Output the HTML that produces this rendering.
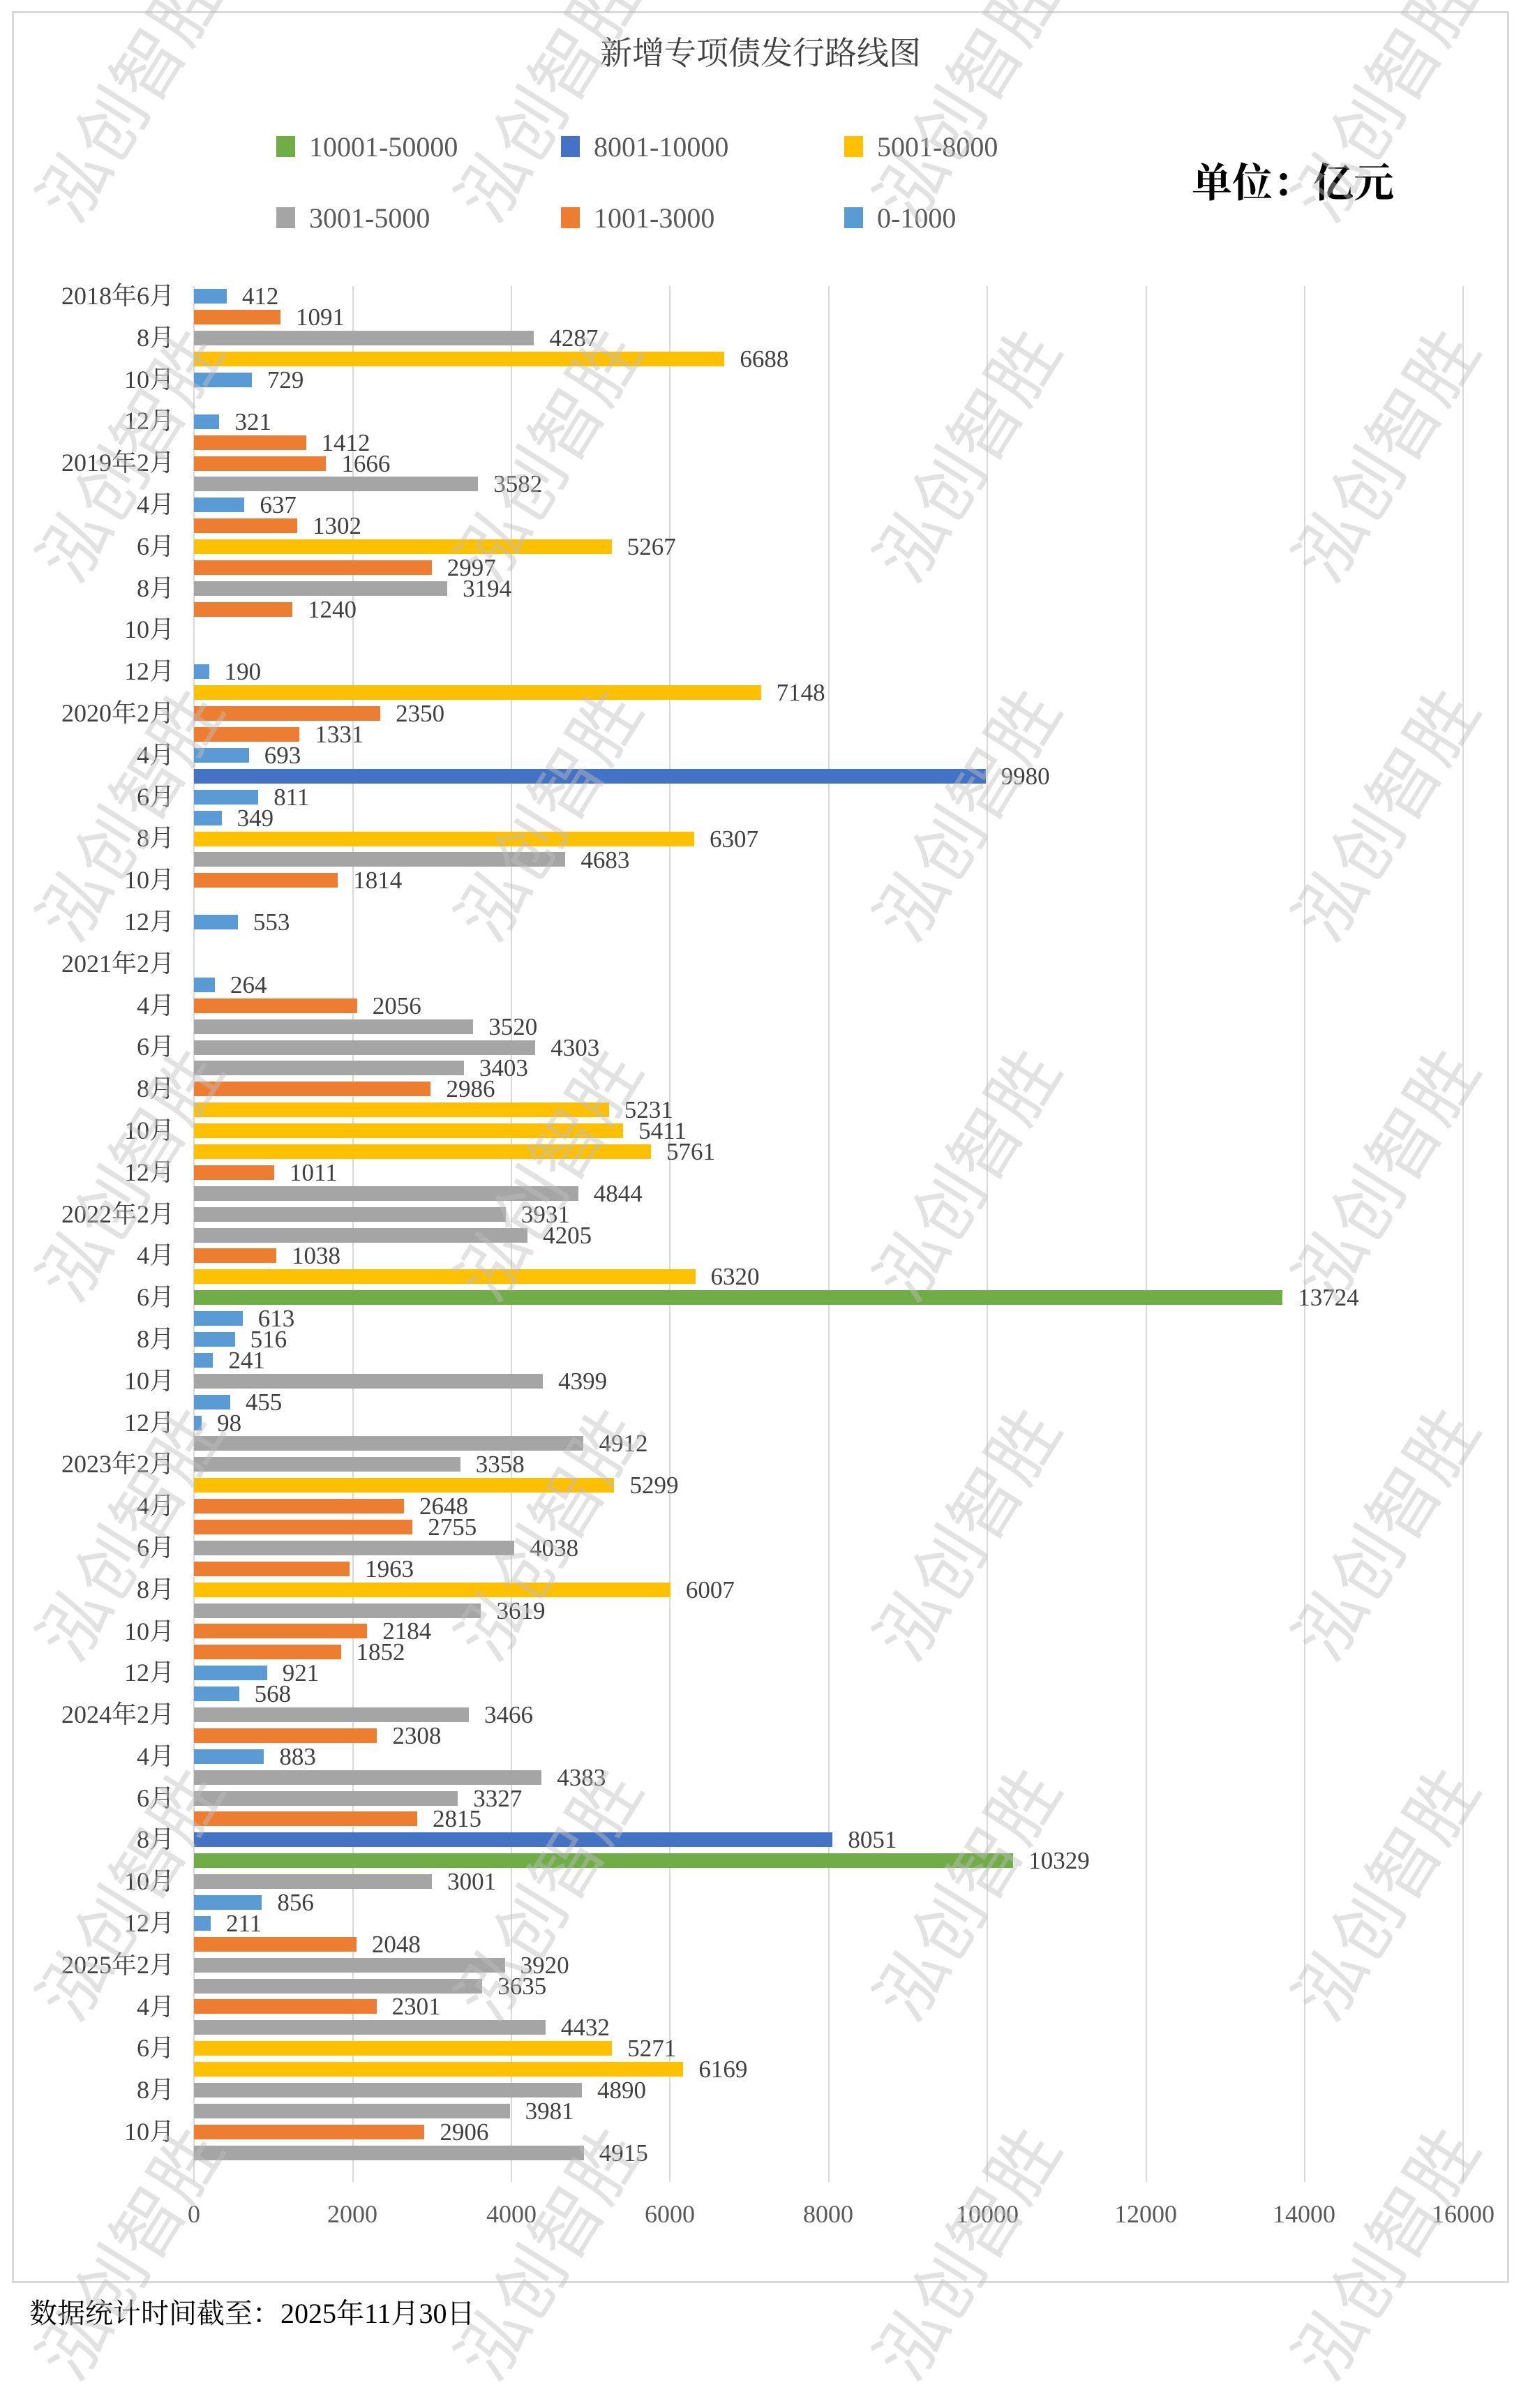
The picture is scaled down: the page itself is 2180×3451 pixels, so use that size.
<!DOCTYPE html>
<html><head><meta charset="utf-8"><style>
*{margin:0;padding:0;box-sizing:border-box}
body{width:2180px;height:3380px;background:#fff;position:relative;overflow:hidden;font-family:"Liberation Serif","Noto Serif CJK SC",serif;color:#404040}
.frame{position:absolute;left:17px;top:16px;width:2146px;height:3256px;border:3px solid #d9d9d9}
.title{position:absolute;left:0;width:2180px;top:40px;text-align:center;font-size:46px;color:#404040}
.lg{position:absolute;font-size:40px;color:#595959;display:flex;align-items:center;height:40px}
.lg i{display:inline-block;width:27px;height:30px;margin-right:20px}
.unit{position:absolute;left:1708px;top:215px;font-size:58px;font-weight:bold;color:#000;font-family:"Noto Serif CJK SC",serif}
.grid{position:absolute;top:410px;height:2717px;width:2px;background:#d9d9d9}
.tick{position:absolute;top:3152px;font-size:36px;color:#595959;width:200px;text-align:center}
#bars{position:absolute;left:278px;top:410px}
#bars div{height:29.9px;display:flex;align-items:center}
#bars b{display:block;height:21px}
#bars span{margin-left:22px;font-size:35px;line-height:1;color:#404040}
.g b{background:#70AD47}.d b{background:#4472C4}.y b{background:#FFC000}.a b{background:#A5A5A5}.o b{background:#ED7D31}.u b{background:#5B9BD5}
#cats{position:absolute;left:0;width:250px;top:395px;text-align:right}
#cats div{height:59.8px;line-height:59.8px;font-size:36px;color:#404040}
.foot{position:absolute;left:42px;top:3284px;font-size:40px;color:#000}
.wm{position:absolute;font-size:100px;color:rgba(190,190,190,0.45);transform:rotate(-58deg);white-space:nowrap;font-family:"Noto Sans CJK SC",sans-serif;width:440px;text-align:center}
</style></head><body>
<div class="frame"></div>
<div class="title">新增专项债发行路线图</div>
<div class="lg" style="left:396px;top:190px"><i style="background:#70AD47"></i>10001-50000</div>
<div class="lg" style="left:804px;top:190px"><i style="background:#4472C4"></i>8001-10000</div>
<div class="lg" style="left:1210px;top:190px"><i style="background:#FFC000"></i>5001-8000</div>
<div class="lg" style="left:396px;top:292px"><i style="background:#A5A5A5"></i>3001-5000</div>
<div class="lg" style="left:804px;top:292px"><i style="background:#ED7D31"></i>1001-3000</div>
<div class="lg" style="left:1210px;top:292px"><i style="background:#5B9BD5"></i>0-1000</div>
<div class="unit">单位：亿元</div>

<div class="grid" style="left:277px"></div>
<div class="grid" style="left:505px"></div>
<div class="grid" style="left:732px"></div>
<div class="grid" style="left:959px"></div>
<div class="grid" style="left:1187px"></div>
<div class="grid" style="left:1414px"></div>
<div class="grid" style="left:1642px"></div>
<div class="grid" style="left:1869px"></div>
<div class="grid" style="left:2096px"></div>
<div class="tick" style="left:178px">0</div>
<div class="tick" style="left:405px">2000</div>
<div class="tick" style="left:633px">4000</div>
<div class="tick" style="left:860px">6000</div>
<div class="tick" style="left:1087px">8000</div>
<div class="tick" style="left:1315px">10000</div>
<div class="tick" style="left:1542px">12000</div>
<div class="tick" style="left:1769px">14000</div>
<div class="tick" style="left:1997px">16000</div>

<div id="cats">
<div>2018年6月</div><div>8月</div><div>10月</div><div>12月</div>
<div>2019年2月</div><div>4月</div><div>6月</div><div>8月</div><div>10月</div><div>12月</div>
<div>2020年2月</div><div>4月</div><div>6月</div><div>8月</div><div>10月</div><div>12月</div>
<div>2021年2月</div><div>4月</div><div>6月</div><div>8月</div><div>10月</div><div>12月</div>
<div>2022年2月</div><div>4月</div><div>6月</div><div>8月</div><div>10月</div><div>12月</div>
<div>2023年2月</div><div>4月</div><div>6月</div><div>8月</div><div>10月</div><div>12月</div>
<div>2024年2月</div><div>4月</div><div>6月</div><div>8月</div><div>10月</div><div>12月</div>
<div>2025年2月</div><div>4月</div><div>6月</div><div>8月</div><div>10月</div>
</div>

<div id="bars">
<div class="u"><b style="width:calc(412px*0.11369)"></b><span>412</span></div>
<div class="o"><b style="width:calc(1091px*0.11369)"></b><span>1091</span></div>
<div class="a"><b style="width:calc(4287px*0.11369)"></b><span>4287</span></div>
<div class="y"><b style="width:calc(6688px*0.11369)"></b><span>6688</span></div>
<div class="u"><b style="width:calc(729px*0.11369)"></b><span>729</span></div>
<div></div>
<div class="u"><b style="width:calc(321px*0.11369)"></b><span>321</span></div>
<div class="o"><b style="width:calc(1412px*0.11369)"></b><span>1412</span></div>
<div class="o"><b style="width:calc(1666px*0.11369)"></b><span>1666</span></div>
<div class="a"><b style="width:calc(3582px*0.11369)"></b><span>3582</span></div>
<div class="u"><b style="width:calc(637px*0.11369)"></b><span>637</span></div>
<div class="o"><b style="width:calc(1302px*0.11369)"></b><span>1302</span></div>
<div class="y"><b style="width:calc(5267px*0.11369)"></b><span>5267</span></div>
<div class="o"><b style="width:calc(2997px*0.11369)"></b><span>2997</span></div>
<div class="a"><b style="width:calc(3194px*0.11369)"></b><span>3194</span></div>
<div class="o"><b style="width:calc(1240px*0.11369)"></b><span>1240</span></div>
<div></div>
<div></div>
<div class="u"><b style="width:calc(190px*0.11369)"></b><span>190</span></div>
<div class="y"><b style="width:calc(7148px*0.11369)"></b><span>7148</span></div>
<div class="o"><b style="width:calc(2350px*0.11369)"></b><span>2350</span></div>
<div class="o"><b style="width:calc(1331px*0.11369)"></b><span>1331</span></div>
<div class="u"><b style="width:calc(693px*0.11369)"></b><span>693</span></div>
<div class="d"><b style="width:calc(9980px*0.11369)"></b><span>9980</span></div>
<div class="u"><b style="width:calc(811px*0.11369)"></b><span>811</span></div>
<div class="u"><b style="width:calc(349px*0.11369)"></b><span>349</span></div>
<div class="y"><b style="width:calc(6307px*0.11369)"></b><span>6307</span></div>
<div class="a"><b style="width:calc(4683px*0.11369)"></b><span>4683</span></div>
<div class="o"><b style="width:calc(1814px*0.11369)"></b><span>1814</span></div>
<div></div>
<div class="u"><b style="width:calc(553px*0.11369)"></b><span>553</span></div>
<div></div>
<div></div>
<div class="u"><b style="width:calc(264px*0.11369)"></b><span>264</span></div>
<div class="o"><b style="width:calc(2056px*0.11369)"></b><span>2056</span></div>
<div class="a"><b style="width:calc(3520px*0.11369)"></b><span>3520</span></div>
<div class="a"><b style="width:calc(4303px*0.11369)"></b><span>4303</span></div>
<div class="a"><b style="width:calc(3403px*0.11369)"></b><span>3403</span></div>
<div class="o"><b style="width:calc(2986px*0.11369)"></b><span>2986</span></div>
<div class="y"><b style="width:calc(5231px*0.11369)"></b><span>5231</span></div>
<div class="y"><b style="width:calc(5411px*0.11369)"></b><span>5411</span></div>
<div class="y"><b style="width:calc(5761px*0.11369)"></b><span>5761</span></div>
<div class="o"><b style="width:calc(1011px*0.11369)"></b><span>1011</span></div>
<div class="a"><b style="width:calc(4844px*0.11369)"></b><span>4844</span></div>
<div class="a"><b style="width:calc(3931px*0.11369)"></b><span>3931</span></div>
<div class="a"><b style="width:calc(4205px*0.11369)"></b><span>4205</span></div>
<div class="o"><b style="width:calc(1038px*0.11369)"></b><span>1038</span></div>
<div class="y"><b style="width:calc(6320px*0.11369)"></b><span>6320</span></div>
<div class="g"><b style="width:calc(13724px*0.11369)"></b><span>13724</span></div>
<div class="u"><b style="width:calc(613px*0.11369)"></b><span>613</span></div>
<div class="u"><b style="width:calc(516px*0.11369)"></b><span>516</span></div>
<div class="u"><b style="width:calc(241px*0.11369)"></b><span>241</span></div>
<div class="a"><b style="width:calc(4399px*0.11369)"></b><span>4399</span></div>
<div class="u"><b style="width:calc(455px*0.11369)"></b><span>455</span></div>
<div class="u"><b style="width:calc(98px*0.11369)"></b><span>98</span></div>
<div class="a"><b style="width:calc(4912px*0.11369)"></b><span>4912</span></div>
<div class="a"><b style="width:calc(3358px*0.11369)"></b><span>3358</span></div>
<div class="y"><b style="width:calc(5299px*0.11369)"></b><span>5299</span></div>
<div class="o"><b style="width:calc(2648px*0.11369)"></b><span>2648</span></div>
<div class="o"><b style="width:calc(2755px*0.11369)"></b><span>2755</span></div>
<div class="a"><b style="width:calc(4038px*0.11369)"></b><span>4038</span></div>
<div class="o"><b style="width:calc(1963px*0.11369)"></b><span>1963</span></div>
<div class="y"><b style="width:calc(6007px*0.11369)"></b><span>6007</span></div>
<div class="a"><b style="width:calc(3619px*0.11369)"></b><span>3619</span></div>
<div class="o"><b style="width:calc(2184px*0.11369)"></b><span>2184</span></div>
<div class="o"><b style="width:calc(1852px*0.11369)"></b><span>1852</span></div>
<div class="u"><b style="width:calc(921px*0.11369)"></b><span>921</span></div>
<div class="u"><b style="width:calc(568px*0.11369)"></b><span>568</span></div>
<div class="a"><b style="width:calc(3466px*0.11369)"></b><span>3466</span></div>
<div class="o"><b style="width:calc(2308px*0.11369)"></b><span>2308</span></div>
<div class="u"><b style="width:calc(883px*0.11369)"></b><span>883</span></div>
<div class="a"><b style="width:calc(4383px*0.11369)"></b><span>4383</span></div>
<div class="a"><b style="width:calc(3327px*0.11369)"></b><span>3327</span></div>
<div class="o"><b style="width:calc(2815px*0.11369)"></b><span>2815</span></div>
<div class="d"><b style="width:calc(8051px*0.11369)"></b><span>8051</span></div>
<div class="g"><b style="width:calc(10329px*0.11369)"></b><span>10329</span></div>
<div class="a"><b style="width:calc(3001px*0.11369)"></b><span>3001</span></div>
<div class="u"><b style="width:calc(856px*0.11369)"></b><span>856</span></div>
<div class="u"><b style="width:calc(211px*0.11369)"></b><span>211</span></div>
<div class="o"><b style="width:calc(2048px*0.11369)"></b><span>2048</span></div>
<div class="a"><b style="width:calc(3920px*0.11369)"></b><span>3920</span></div>
<div class="a"><b style="width:calc(3635px*0.11369)"></b><span>3635</span></div>
<div class="o"><b style="width:calc(2301px*0.11369)"></b><span>2301</span></div>
<div class="a"><b style="width:calc(4432px*0.11369)"></b><span>4432</span></div>
<div class="y"><b style="width:calc(5271px*0.11369)"></b><span>5271</span></div>
<div class="y"><b style="width:calc(6169px*0.11369)"></b><span>6169</span></div>
<div class="a"><b style="width:calc(4890px*0.11369)"></b><span>4890</span></div>
<div class="a"><b style="width:calc(3981px*0.11369)"></b><span>3981</span></div>
<div class="o"><b style="width:calc(2906px*0.11369)"></b><span>2906</span></div>
<div class="a"><b style="width:calc(4915px*0.11369)"></b><span>4915</span></div>
</div>

<div class="foot">数据统计时间截至：2025年11月30日</div>

<div class="wm" style="left:-40px;top:60px">泓创智胜</div>
<div class="wm" style="left:560px;top:60px">泓创智胜</div>
<div class="wm" style="left:1160px;top:60px">泓创智胜</div>
<div class="wm" style="left:1760px;top:60px">泓创智胜</div>
<div class="wm" style="left:-40px;top:576px">泓创智胜</div>
<div class="wm" style="left:560px;top:576px">泓创智胜</div>
<div class="wm" style="left:1160px;top:576px">泓创智胜</div>
<div class="wm" style="left:1760px;top:576px">泓创智胜</div>
<div class="wm" style="left:-40px;top:1091px">泓创智胜</div>
<div class="wm" style="left:560px;top:1091px">泓创智胜</div>
<div class="wm" style="left:1160px;top:1091px">泓创智胜</div>
<div class="wm" style="left:1760px;top:1091px">泓创智胜</div>
<div class="wm" style="left:-40px;top:1607px">泓创智胜</div>
<div class="wm" style="left:560px;top:1607px">泓创智胜</div>
<div class="wm" style="left:1160px;top:1607px">泓创智胜</div>
<div class="wm" style="left:1760px;top:1607px">泓创智胜</div>
<div class="wm" style="left:-40px;top:2122px">泓创智胜</div>
<div class="wm" style="left:560px;top:2122px">泓创智胜</div>
<div class="wm" style="left:1160px;top:2122px">泓创智胜</div>
<div class="wm" style="left:1760px;top:2122px">泓创智胜</div>
<div class="wm" style="left:-40px;top:2638px">泓创智胜</div>
<div class="wm" style="left:560px;top:2638px">泓创智胜</div>
<div class="wm" style="left:1160px;top:2638px">泓创智胜</div>
<div class="wm" style="left:1760px;top:2638px">泓创智胜</div>
<div class="wm" style="left:-40px;top:3153px">泓创智胜</div>
<div class="wm" style="left:560px;top:3153px">泓创智胜</div>
<div class="wm" style="left:1160px;top:3153px">泓创智胜</div>
<div class="wm" style="left:1760px;top:3153px">泓创智胜</div>
</body></html>
